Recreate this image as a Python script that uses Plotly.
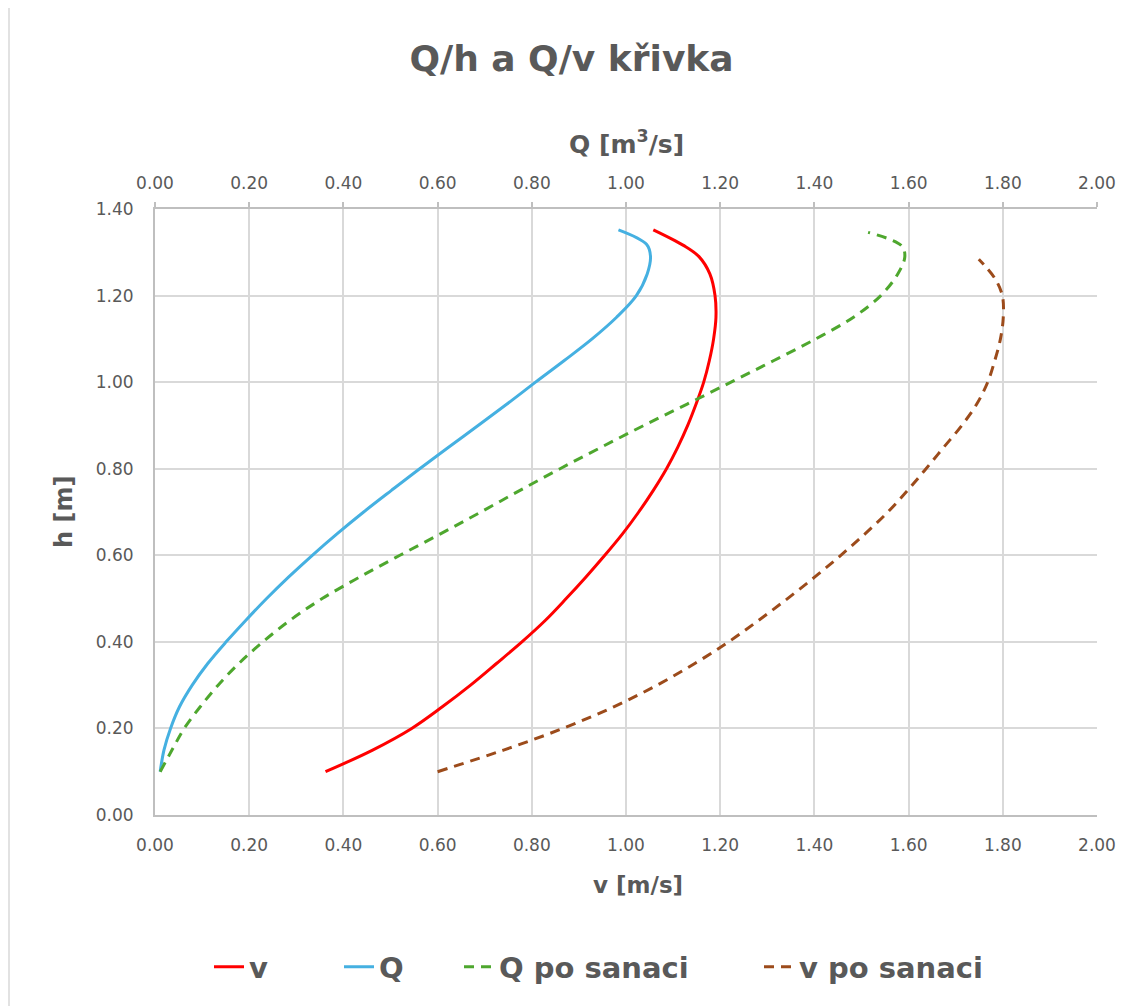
import plotly.graph_objects as go

# ---- data ----
# v [m/s] vs h [m]
v_h = [0.10, 0.15, 0.20, 0.25, 0.30, 0.35, 0.40, 0.45, 0.50, 0.55, 0.60, 0.65, 0.70, 0.75, 0.80, 0.85, 0.90, 0.95, 1.00, 1.05, 1.10, 1.15, 1.20, 1.25, 1.29, 1.316, 1.352]
v_val = [0.362, 0.462, 0.545, 0.610, 0.670, 0.725, 0.779, 0.829, 0.873, 0.915, 0.955, 0.993, 1.027, 1.058, 1.086, 1.110, 1.131, 1.149, 1.165, 1.177, 1.186, 1.191, 1.189, 1.178, 1.155, 1.122, 1.058]

# Q [m3/s] vs h [m]
q_h = [0.10, 0.15, 0.20, 0.25, 0.30, 0.35, 0.40, 0.45, 0.50, 0.55, 0.60, 0.65, 0.70, 0.75, 0.80, 0.85, 0.90, 0.95, 1.00, 1.05, 1.10, 1.15, 1.20, 1.25, 1.29, 1.318, 1.352]
q_val = [0.011, 0.019, 0.033, 0.052, 0.079, 0.112, 0.151, 0.193, 0.237, 0.284, 0.334, 0.387, 0.443, 0.502, 0.562, 0.624, 0.686, 0.748, 0.808, 0.869, 0.928, 0.980, 1.022, 1.045, 1.052, 1.044, 0.984]

# Q po sanaci
qs_h = [0.10, 0.15, 0.20, 0.25, 0.30, 0.35, 0.40, 0.45, 0.50, 0.55, 0.60, 0.65, 0.70, 0.75, 0.80, 0.85, 0.90, 0.95, 1.00, 1.05, 1.10, 1.15, 1.20, 1.25, 1.29, 1.315, 1.346]
qs_val = [0.011, 0.036, 0.062, 0.096, 0.134, 0.178, 0.229, 0.287, 0.355, 0.435, 0.520, 0.607, 0.692, 0.775, 0.860, 0.948, 1.038, 1.131, 1.223, 1.314, 1.403, 1.483, 1.541, 1.577, 1.592, 1.585, 1.514]

# v po sanaci
vs_h = [0.10, 0.15, 0.20, 0.25, 0.30, 0.35, 0.40, 0.45, 0.50, 0.55, 0.60, 0.65, 0.70, 0.75, 0.80, 0.85, 0.90, 0.95, 1.00, 1.05, 1.10, 1.15, 1.20, 1.24, 1.284]
vs_val = [0.60, 0.740, 0.866, 0.974, 1.066, 1.146, 1.218, 1.282, 1.343, 1.401, 1.456, 1.508, 1.556, 1.598, 1.637, 1.675, 1.713, 1.745, 1.768, 1.783, 1.795, 1.801, 1.799, 1.783, 1.749]

series_names = ["v", "Q", "Q po sanaci", "v po sanaci"]
x_ticks = [0.0, 0.2, 0.4, 0.6, 0.8, 1.0, 1.2, 1.4, 1.6, 1.8, 2.0]
y_ticks = [0.0, 0.2, 0.4, 0.6, 0.8, 1.0, 1.2, 1.4]

FONT = "DejaVu Sans, Liberation Sans, Arial, sans-serif"
GRAY = "#595959"
GRID = "#d9d9d9"
AXIS = "#bfbfbf"

OFF = 8  # page body margin
W, H = 1135 - OFF, 1006 - OFF
def px(v):
    return v - OFF

L, R, T, B = px(155), px(1097), px(209), px(815)
PW, PH = R - L, B - T
def paper_x(xr):
    return (px(xr) - L) / PW
def paper_y(yr):
    return (B - px(yr)) / PH

fig = go.Figure()
fig.add_trace(go.Scatter(x=v_val, y=v_h, name=f"<b>{series_names[0]}</b>", mode="lines",
                         line=dict(color="#FF0000", width=3, shape="spline", smoothing=1.0),
                         xaxis="x", legend="legend"))
fig.add_trace(go.Scatter(x=q_val, y=q_h, name=f"<b>{series_names[1]}</b>", mode="lines",
                         line=dict(color="#45B0E1", width=3, shape="spline", smoothing=1.0),
                         xaxis="x2", legend="legend2"))
fig.add_trace(go.Scatter(x=qs_val, y=qs_h, name=f"<b>{series_names[2]}</b>", mode="lines",
                         line=dict(color="#4EA72E", width=3, shape="spline", smoothing=1.0, dash="10px,7px"),
                         xaxis="x2", legend="legend3"))
fig.add_trace(go.Scatter(x=vs_val, y=vs_h, name=f"<b>{series_names[3]}</b>", mode="lines",
                         line=dict(color="#9C4B1B", width=3, shape="spline", smoothing=1.0, dash="10px,7px"),
                         xaxis="x", legend="legend4"))

tick_text = [f"{t:.2f}" for t in x_ticks]
ytick_text = [f"{t:.2f}" for t in y_ticks]

def leg(x_text):
    xr = x_text - 39
    return dict(orientation="h", x=(px(xr) - 2) / W, xanchor="left", xref="container",
                y=1 - px(967) / H, yanchor="middle", yref="container",
                font=dict(size=29, color=GRAY, family=FONT),
                bgcolor="rgba(0,0,0,0)", borderwidth=0)

fig.update_layout(
    width=W, height=H,
    margin=dict(l=L, r=W - R, t=T, b=H - B, autoexpand=False),
    paper_bgcolor="white", plot_bgcolor="white",
    font=dict(family=FONT, color=GRAY),
    title=dict(text="<b>Q/h a Q/v křivka</b>", font=dict(size=36, color=GRAY, family=FONT),
               x=0.5, xanchor="center", xref="container",
               y=1 - px(58) / H, yanchor="middle", yref="container"),
    xaxis=dict(range=[0, 2], tickvals=x_ticks, ticktext=tick_text,
               showgrid=True, gridcolor=GRID, gridwidth=1.5,
               showline=True, linecolor=AXIS, linewidth=2,
               zeroline=False, ticks="", ticklabelstandoff=14,
               tickfont=dict(size=17, color=GRAY)),
    xaxis2=dict(range=[0, 2], tickvals=x_ticks, ticktext=tick_text,
                overlaying="x", side="top", showgrid=False,
                showline=True, linecolor=AXIS, linewidth=2,
                ticks="outside", ticklen=5, tickcolor=AXIS, tickwidth=1.5,
                zeroline=False, ticklabelstandoff=6,
                tickfont=dict(size=17, color=GRAY)),
    yaxis=dict(range=[0, 1.4], tickvals=y_ticks, ticktext=ytick_text,
               showgrid=True, gridcolor=GRID, gridwidth=1.5,
               showline=True, linecolor=AXIS, linewidth=2,
               zeroline=False, ticks="", ticklabelstandoff=16,
               tickfont=dict(size=17, color=GRAY)),
    legend=leg(250), legend2=leg(380), legend3=leg(500), legend4=leg(800),
    showlegend=True,
    shapes=[dict(type="rect", xref="paper", yref="paper",
                 x0=paper_x(9), x1=paper_x(1140),
                 y0=paper_y(1012), y1=paper_y(7),
                 line=dict(color=GRID, width=1.5), fillcolor="rgba(0,0,0,0)", layer="below")],
    annotations=[
        dict(text="<b>Q [m<sup>3</sup>/s]</b>", xref="paper", yref="paper",
             x=paper_x(626), y=paper_y(143), xanchor="center", yanchor="middle",
             showarrow=False, font=dict(size=25, color=GRAY, family=FONT)),
        dict(text="<b>v [m/s]</b>", xref="paper", yref="paper",
             x=paper_x(638), y=paper_y(885), xanchor="center", yanchor="middle",
             showarrow=False, font=dict(size=23, color=GRAY, family=FONT)),
        dict(text="<b>h [m]</b>", xref="paper", yref="paper",
             x=paper_x(64), y=paper_y(512), xanchor="center", yanchor="middle",
             textangle=-90, showarrow=False, font=dict(size=24, color=GRAY, family=FONT)),
    ],
)

fig.write_html("out.html")
